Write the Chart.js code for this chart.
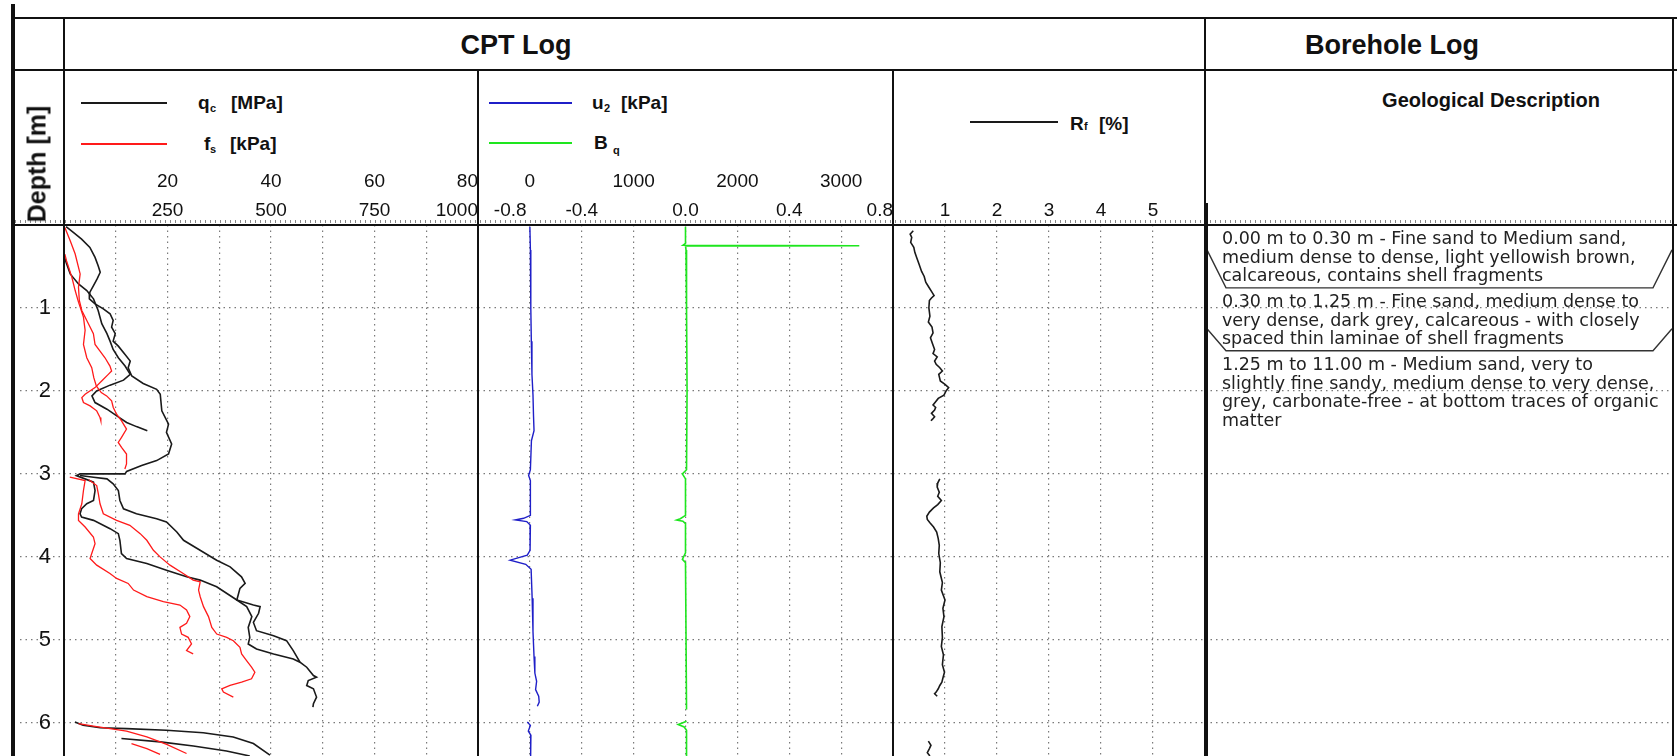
<!DOCTYPE html>
<html>
<head>
<meta charset="utf-8">
<title>CPT Log</title>
<script src="https://cdn.jsdelivr.net/npm/chart.js@4/dist/chart.umd.min.js"></script>
<style>
  html, body { margin: 0; padding: 0; background: #fff; }
  #sheet { position: relative; width: 1677px; height: 756px; overflow: hidden; background: #fff;
           font-family: "Liberation Sans", Arial, sans-serif; color: #111; }
  .rule { position: absolute; background: #111; }
  .t { position: absolute; white-space: nowrap; line-height: 1; }
  .b { font-weight: bold; }
  canvas { position: absolute; }
</style>
</head>
<body>
<div id="sheet">
  <canvas id="cpt1" width="464" height="589" style="left:14px;top:167px"></canvas>
  <canvas id="cpt2" width="415" height="589" style="left:478px;top:167px"></canvas>
  <canvas id="cpt3" width="312" height="560" style="left:893px;top:196px"></canvas>
  <canvas id="bore" width="472" height="531" style="left:1205px;top:225px"></canvas>

  <!-- frame -->
  <div class="rule" style="left:11px;top:4px;width:4px;height:752px"></div>
  <div class="rule" style="left:15px;top:17px;width:1662px;height:2px"></div>
  <div class="rule" style="left:15px;top:69px;width:1662px;height:2px"></div>
  <div class="rule" style="left:15px;top:224px;width:1662px;height:2px"></div>
  <div style="position:absolute;left:15px;top:220px;width:1658px;height:3px;background:repeating-linear-gradient(to right,#888 0 1px,transparent 1px 5px)"></div>
  <div class="rule" style="left:63px;top:18px;width:2px;height:738px"></div>
  <div class="rule" style="left:477px;top:70px;width:2px;height:686px"></div>
  <div class="rule" style="left:892px;top:70px;width:2px;height:686px"></div>
  <div class="rule" style="left:1204px;top:18px;width:2px;height:186px"></div>
  <div class="rule" style="left:1204px;top:203px;width:4px;height:553px"></div>
  <div class="rule" style="left:1672px;top:18px;width:2px;height:738px"></div>

  <!-- headings -->
  <div class="t b" style="left:516px;top:45px;font-size:27px;transform:translate(-50%,-50%)">CPT Log</div>
  <div class="t b" style="left:1392px;top:45px;font-size:27px;transform:translate(-50%,-50%)">Borehole Log</div>
  <div class="t b" style="left:1491px;top:100px;font-size:20px;transform:translate(-50%,-50%)">Geological Description</div>
  <div class="t b" style="left:37px;top:164px;font-size:25px;transform:translate(-50%,-50%) rotate(-90deg)">Depth [m]</div>

  <!-- legend keys -->
  <div class="rule" style="left:81px;top:102px;width:86px;height:1.6px;background:#1a1a1a"></div>
  <div class="rule" style="left:81px;top:143px;width:86px;height:1.6px;background:#ff1a1a"></div>
  <div class="rule" style="left:489px;top:102px;width:83px;height:1.6px;background:#1f1fc8"></div>
  <div class="rule" style="left:489px;top:142px;width:83px;height:2px;background:#1ee61e"></div>
  <div class="rule" style="left:970px;top:121px;width:88px;height:1.6px;background:#1a1a1a"></div>

  <div class="t b" style="left:198px;top:93px;font-size:19px">q</div>
  <div class="t b" style="left:210px;top:103px;font-size:11px">c</div>
  <div class="t b" style="left:231px;top:93px;font-size:19px">[MPa]</div>
  <div class="t b" style="left:204px;top:134px;font-size:19px">f</div>
  <div class="t b" style="left:210px;top:144px;font-size:11px">s</div>
  <div class="t b" style="left:230px;top:134px;font-size:19px">[kPa]</div>

  <div class="t b" style="left:592px;top:93px;font-size:19px">u</div>
  <div class="t b" style="left:604px;top:103px;font-size:11px">2</div>
  <div class="t b" style="left:621px;top:93px;font-size:19px">[kPa]</div>
  <div class="t b" style="left:594px;top:133px;font-size:19px">B</div>
  <div class="t b" style="left:613px;top:145px;font-size:11px">q</div>

  <div class="t b" style="left:1070px;top:114px;font-size:19px">R</div>
  <div class="t b" style="left:1084px;top:121px;font-size:11px">f</div>
  <div class="t b" style="left:1099px;top:114px;font-size:19px">[%]</div>
</div>

<script>
const FONT = '"Liberation Sans", Arial, sans-serif';
const DEPTH_MAX = 6.4;
const DOT = [1.5, 4];
const GRID_COLOR = '#7a7a7a';

// tick labels
const depthLabels = [1, 2, 3, 4, 5, 6];
const qcLabels = [20, 40, 60, 80];
const fsLabels = [250, 500, 750, 1000];
const u2Labels = [0, 1000, 2000, 3000];
const bqLabels = [-0.8, -0.4, 0, 0.4, 0.8];
const rfLabels = [1, 2, 3, 4, 5];

// runs: [depth m, value]
const qcRun1 = [[0.02,0.4],[0.09,1.8],[0.17,3.4],[0.27,5.0],[0.39,6.0],[0.49,6.6],[0.57,7.0],[0.65,6.4],
  [0.73,5.7],[0.81,5.0],[0.89,4.9],[0.95,6.0],[1.01,7.6],[1.07,8.9],[1.15,9.5],[1.23,9.2],[1.31,9.9],
  [1.40,9.5],[1.46,10.5],[1.56,11.8],[1.64,12.8],[1.72,12.4],[1.82,13.1],[1.91,15.3],[1.98,17.9],
  [2.04,18.6],[2.24,18.9],[2.40,20.2],[2.50,19.8],[2.64,20.8],[2.76,20.2],[2.84,17.9],[2.90,15.0],
  [2.97,12.1],[3.00,11.8],[3.00,3.1],[3.02,2.4],[3.10,5.7],[3.20,6.0],[3.32,5.7],[3.36,4.4],[3.42,3.4],
  [3.48,3.1],[3.52,3.4],[3.56,5.7],[3.66,8.9],[3.72,10.5],[3.80,10.8],[3.96,11.1],[4.02,12.1],[4.08,16.0],
  [4.16,19.8],[4.24,23.7],[4.28,26.3],[4.36,29.5],[4.52,33.4],[4.60,35.3],[4.72,36.3],[4.85,35.6],
  [4.97,35.9],[5.05,35.6],[5.11,37.2],[5.17,40.5],[5.23,44.3],[5.27,45.6]];
const qcRun2 = [[0.37,0.0],[0.45,0.4],[0.59,1.2],[0.71,2.8],[0.79,4.4],[0.89,5.7],[1.03,6.6],[1.19,7.3],
  [1.31,8.3],[1.40,8.9],[1.50,9.5],[1.60,10.5],[1.70,11.8],[1.80,12.8],[1.87,11.5],[1.93,8.9],[2.00,6.3],
  [2.06,5.4],[2.14,6.0],[2.22,8.3],[2.30,10.2],[2.38,12.1],[2.43,14.0],[2.48,16.1]];
const qcRun3 = [[3.02,3.1],[3.04,5.7],[3.06,8.3],[3.12,9.5],[3.20,10.5],[3.32,10.8],[3.42,11.5],[3.48,14.0],
  [3.54,17.9],[3.58,19.8],[3.70,21.8],[3.80,23.1],[3.92,26.3],[4.04,29.5],[4.12,32.1],[4.24,34.3],
  [4.32,35.0],[4.38,34.0],[4.52,33.4],[4.58,36.6],[4.60,37.9],[4.68,37.6],[4.79,36.6],[4.89,37.2],
  [4.95,40.5],[5.01,43.0],[5.13,44.3],[5.27,45.6],[5.33,46.9],[5.43,48.2],[5.45,48.8],[5.49,47.2],
  [5.55,46.9],[5.59,48.2],[5.69,48.8],[5.77,48.2],[5.81,48.1]];
const qcRun4 = [[5.99,2.1],[6.03,3.7],[6.06,7.0],[6.07,12.1],[6.09,19.8],[6.12,26.9],[6.17,32.7],[6.25,36.6],[6.39,39.8]];
const qcRun5 = [[6.19,11.1],[6.23,18.6],[6.28,25.0],[6.34,31.4],[6.40,35.9]];

const fsRun1 = [[0.03,2],[0.19,15],[0.35,27],[0.59,39],[0.75,35],[0.91,37],[1.03,43],[1.19,59],[1.31,71],
  [1.44,75],[1.52,87],[1.60,99],[1.70,111],[1.76,115],[1.80,107],[1.88,91],[1.96,75],[2.04,51],[2.08,43],
  [2.14,47],[2.18,63],[2.24,79],[2.32,87],[2.36,89]];
const fsRun2 = [[0.35,2],[0.43,6],[0.63,19],[0.79,27],[0.93,35],[0.99,39],[1.11,47],[1.27,51],[1.44,47],
  [1.60,55],[1.72,67],[1.84,72],[1.94,78],[2.02,90],[2.06,103],[2.12,115],[2.20,119],[2.28,127],[2.36,139],
  [2.46,151],[2.56,139],[2.62,131],[2.68,139],[2.76,151],[2.88,151],[2.94,147]];
const fsRun3 = [[3.07,60],[3.14,79],[3.24,83],[3.36,87],[3.48,95],[3.56,127],[3.62,159],[3.72,184],[3.80,200],
  [3.92,216],[4.00,232],[4.10,256],[4.20,288],[4.28,312],[4.30,329],[4.40,325],[4.48,329],[4.60,337],
  [4.72,349],[4.85,357],[4.93,369],[4.97,393],[5.01,409],[5.09,425],[5.17,429],[5.25,441],[5.33,453],
  [5.39,461],[5.47,453],[5.51,429],[5.55,401],[5.59,381],[5.63,385],[5.69,409]];
const fsRun4 = [[3.04,14],[3.08,51],[3.20,47],[3.36,43],[3.48,35],[3.56,35],[3.64,51],[3.76,71],[3.84,75],
  [3.96,67],[4.02,63],[4.10,79],[4.20,111],[4.26,127],[4.32,155],[4.40,168],[4.48,200],[4.54,240],
  [4.58,280],[4.64,296],[4.72,304],[4.80,296],[4.85,280],[4.93,284],[4.97,300],[5.05,308],[5.13,296],[5.17,312]];
const fsRun5 = [[6.01,35],[6.04,71],[6.10,151],[6.17,200],[6.26,248],[6.37,296]];
const fsRun6 = [[6.25,163],[6.31,200],[6.38,232]];

const u2Run1 = [[0.02,0],[0.3,5],[0.6,8],[1.0,10],[1.4,14],[1.8,20],[2.05,30],[2.3,35],[2.48,40],[2.6,15],
  [2.95,5],[3.02,-12],[3.08,5],[3.5,5],[3.535,-60],[3.555,-140],[3.575,-30],[3.62,5],[3.92,2],[3.98,-25],
  [4.04,-190],[4.09,-40],[4.15,12],[4.5,22],[4.9,30],[5.2,40],[5.4,48],[5.5,65],[5.6,55],[5.68,85],
  [5.75,90],[5.8,72]];
const u2Run2 = [[5.99,-25],[6.03,5],[6.1,-15],[6.15,10],[6.25,5],[6.4,10]];

const bqRun1 = [[0.02,0.0],[0.22,0.0],[0.245,-0.01],[0.25,0.67],[0.255,0.0],[0.3,0.002],[1.0,0.004],
  [2.0,0.006],[2.95,0.004],[3.0,-0.012],[3.06,0.0],[3.5,0.0],[3.54,-0.02],[3.555,-0.034],[3.57,-0.01],
  [3.6,0.0],[3.95,0.0],[4.03,-0.012],[4.07,0.0],[5.84,0.004]];
const bqRun2 = [[5.98,0.004],[6.0,-0.01],[6.02,-0.028],[6.05,-0.005],[6.09,0.004],[6.4,0.004]];

const rfRun1 = [[0.07,0.39],[0.11,0.33],[0.15,0.36],[0.21,0.34],[0.27,0.40],[0.33,0.42],[0.40,0.46],
  [0.47,0.50],[0.56,0.55],[0.62,0.60],[0.69,0.63],[0.75,0.69],[0.80,0.74],[0.85,0.79],[0.88,0.74],
  [0.91,0.70],[1.00,0.69],[1.10,0.71],[1.17,0.68],[1.23,0.75],[1.30,0.77],[1.36,0.72],[1.43,0.76],
  [1.50,0.80],[1.55,0.77],[1.59,0.85],[1.64,0.80],[1.68,0.83],[1.72,0.90],[1.76,0.95],[1.80,0.88],
  [1.88,0.91],[1.92,1.00],[1.96,1.07],[2.00,1.02],[2.05,0.98],[2.09,0.87],[2.13,0.82],[2.17,0.77],
  [2.20,0.82],[2.23,0.80],[2.27,0.74],[2.31,0.80],[2.34,0.76],[2.36,0.73]];
const rfRun2 = [[3.06,0.90],[3.11,0.86],[3.16,0.85],[3.22,0.89],[3.27,0.86],[3.32,0.93],[3.37,0.86],
  [3.41,0.78],[3.46,0.70],[3.51,0.65],[3.55,0.66],[3.59,0.71],[3.64,0.78],[3.70,0.84],[3.78,0.87],
  [3.86,0.89],[3.96,0.88],[4.07,0.91],[4.18,0.90],[4.31,0.95],[4.40,0.93],[4.52,1.00],[4.62,0.96],
  [4.72,0.98],[4.84,0.94],[4.97,0.95],[5.08,0.93],[5.18,0.97],[5.30,0.95],[5.39,0.99],[5.46,0.96],
  [5.51,0.94],[5.55,0.90],[5.59,0.87],[5.63,0.83],[5.65,0.80],[5.68,0.85]];
const rfRun3 = [[6.22,0.68],[6.27,0.73],[6.31,0.70],[6.36,0.66],[6.40,0.71]];

// borehole layers
const layerTop = [0.00, 0.30, 1.25];
const layerBottom = [0.30, 1.25, 11.00];
const layerText = [
  ['0.00 m to 0.30 m - Fine sand to Medium sand,', 'medium dense to dense, light yellowish brown,', 'calcareous, contains shell fragments'],
  ['0.30 m to 1.25 m - Fine sand, medium dense to', 'very dense, dark grey, calcareous - with closely', 'spaced thin laminae of shell fragments'],
  ['1.25 m to 11.00 m - Medium sand, very to', 'slightly fine sandy, medium dense to very dense,', 'grey, carbonate-free - at bottom traces of organic', 'matter']
];

Chart.defaults.font.family = FONT;

const pts = run => run.map(([d, v]) => ({ x: v, y: d }));

function trace(run, axis, color, width) {
  return { data: pts(run), xAxisID: axis, yAxisID: 'y', borderColor: color, borderWidth: width,
           showLine: true, pointRadius: 0, fill: false, tension: 0 };
}

function labelFmt(list, digits, lead) {
  return v => {
    const r = Math.round(v * 1000) / 1000;
    if (!list.some(l => Math.abs(l - r) < 1e-6)) return '';
    const s = digits ? (Math.abs(r) < 1e-9 ? 0 : r).toFixed(digits) : String(r);
    return (lead && Math.abs(r - list[0]) < 1e-6) ? lead + s : s;
  };
}

function topAxis(min, max, step, labels, weight, gridOn, align, digits, lead) {
  return {
    type: 'linear', axis: 'x', position: 'top', min, max, weight,
    grid: { display: gridOn, color: GRID_COLOR, lineWidth: 1.2, drawTicks: false },
    border: { display: false, dash: DOT },
    ticks: { stepSize: step, autoSkip: false, includeBounds: false, align, padding: 3, maxRotation: 0,
             color: '#111', font: { family: FONT, size: 19 }, callback: labelFmt(labels, digits, lead) },
    afterFit: s => { s.height = 29; s.paddingLeft = 0; s.paddingRight = 0; }
  };
}

function depthAxis(labelled) {
  return {
    type: 'linear', axis: 'y', position: 'left', reverse: true, min: 0, max: DEPTH_MAX,
    grid: { color: GRID_COLOR, lineWidth: 1.2, drawTicks: labelled, tickLength: 44,
            tickColor: GRID_COLOR, tickWidth: 1.2, tickBorderDash: DOT },
    border: { display: false, dash: DOT },
    ticks: { display: labelled, stepSize: 1, includeBounds: false, autoSkip: false, padding: -31,
             color: '#111', font: { family: FONT, size: 22 }, callback: labelFmt(depthLabels, 0) },
    afterFit: s => { s.width = labelled ? 50 : 0; s.paddingTop = 0; s.paddingBottom = 0; }
  };
}

function makeChart(id, datasets, scales, plugins) {
  return new Chart(document.getElementById(id), {
    type: 'scatter',
    data: { datasets },
    options: {
      responsive: false, animation: false, devicePixelRatio: 1, events: [],
      layout: { padding: 0 },
      plugins: { legend: { display: false }, tooltip: { enabled: false } },
      scales
    },
    plugins: plugins || []
  });
}

// panel 1: cone resistance and sleeve friction
makeChart('cpt1', [
  trace(fsRun1, 'xf', '#ff1a1a', 1.3), trace(fsRun2, 'xf', '#ff1a1a', 1.3),
  trace(fsRun3, 'xf', '#ff1a1a', 1.3), trace(fsRun4, 'xf', '#ff1a1a', 1.3),
  trace(fsRun5, 'xf', '#ff1a1a', 1.3), trace(fsRun6, 'xf', '#ff1a1a', 1.3),
  trace(qcRun1, 'xq', '#1a1a1a', 1.6), trace(qcRun2, 'xq', '#1a1a1a', 1.6),
  trace(qcRun3, 'xq', '#1a1a1a', 1.6), trace(qcRun4, 'xq', '#1a1a1a', 1.6),
  trace(qcRun5, 'xq', '#1a1a1a', 1.6)
], {
  xq: topAxis(0, 80, 10, qcLabels, 2, true, 'inner'),
  xf: topAxis(0, 1000, 250, fsLabels, 1, false, 'inner'),
  y: depthAxis(true)
});

// panel 2: pore pressure and Bq
makeChart('cpt2', [
  trace(bqRun1, 'xb', '#1ee61e', 1.6), trace(bqRun2, 'xb', '#1ee61e', 1.6),
  trace(u2Run1, 'xu', '#1f1fc8', 1.4), trace(u2Run2, 'xu', '#1f1fc8', 1.4)
], {
  xu: topAxis(-500, 3500, 500, u2Labels, 2, false, 'center'),
  xb: topAxis(-0.8, 0.8, 0.2, bqLabels, 1, true, 'inner', 1, '   '),
  y: depthAxis(false)
});

// panel 3: friction ratio
makeChart('cpt3', [
  trace(rfRun1, 'xr', '#1a1a1a', 1.6), trace(rfRun2, 'xr', '#1a1a1a', 1.6), trace(rfRun3, 'xr', '#1a1a1a', 1.6)
], {
  xr: topAxis(0, 6, 1, rfLabels, 1, true, 'center'),
  y: depthAxis(false)
});

// borehole description column
const layerBoxes = {
  id: 'layerBoxes',
  afterDraw(chart) {
    const { ctx, chartArea, scales: { y } } = chart;
    const step = 18.7;
    const left = 2, right = 467, inset = 19;
    let top = y.getPixelForValue(0);
    ctx.save();
    ctx.font = '17.5px "DejaVu Sans"';
    ctx.fillStyle = '#222';
    ctx.textBaseline = 'middle';
    ctx.strokeStyle = '#333';
    ctx.lineWidth = 1.4;
    layerTop.forEach((t, i) => {
      const lines = layerText[i];
      lines.forEach((s, k) => ctx.fillText(s, 17, top + 14.5 + k * step));
      const bottom = top + 14.5 + (lines.length - 1) * step + 11;
      const yb = y.getPixelForValue(layerBottom[i]);
      if (yb < chartArea.bottom) {
        ctx.beginPath();
        ctx.moveTo(left, yb);
        ctx.lineTo(left + inset, bottom);
        ctx.lineTo(right - inset, bottom);
        ctx.lineTo(right, yb);
        ctx.stroke();
      }
      top = bottom;
    });
    ctx.restore();
  }
};

makeChart('bore', [], {
  x: { type: 'linear', display: false, min: 0, max: 1 },
  y: depthAxis(false)
}, [layerBoxes]);
</script>
</body>
</html>
